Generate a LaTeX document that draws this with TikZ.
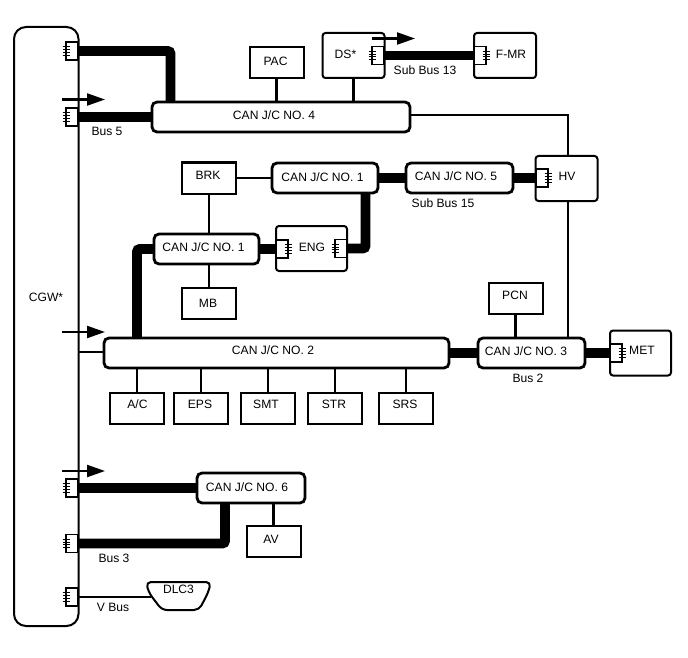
\documentclass[tikz,border=0pt]{standalone}
\usepackage{fontspec}
\setmainfont{Liberation Sans}
\usetikzlibrary{arrows.meta,calc}
\tikzset{
  x=1pt,y=-1pt,
  every node/.style={font=\fontsize{12.1}{13}\selectfont,inner sep=0pt,outer sep=0pt},
  caption/.style={text height=8.7pt,text depth=0pt},
  junction/.style={draw,line width=2.8pt,rounded corners=5pt,fill=white,minimum width=#1,minimum height=30pt},
  junction/.default=107pt,
  ecu/.style={draw,line width=2pt,fill=white,minimum width=54pt,minimum height=31pt},
  unit/.style={draw,line width=2pt,rounded corners=3pt,fill=white,minimum width=62pt,minimum height=45pt},
  termbox/.style={draw,line width=1.4pt,fill=white,minimum width=12pt,minimum height=18pt},
  thin bus/.style={line width=2.4pt},
  thick bus/.style={line width=9.6pt,rounded corners=2.5pt},
  coil/.style={line width=1pt},
  feed/.style={line width=2.2pt,-{Triangle[length=18pt,width=12pt]}},
}
% Terminating resistor: box name, centre x, centre y, coil side (west or east)
\newcommand{\termres}[4]{%
  \node[termbox] (#1) at (#2,#3) {};
  \foreach \dy in {-4.2,-1.4,1.4,4.2}
    \draw[coil] ($(#1.#4)+(-3.5,\dy)$) -- ++(7,0);
}
\newcommand{\feedarrow}[3]{%
  \coordinate (#1a) at (#2,#3);
  \coordinate (#1b) at ($(#1a)+(43,0)$);
  \draw[feed] (#1a) -- (#1b);
}
\begin{document}
\begin{tikzpicture}
\useasboundingbox[fill=white] (0,0) rectangle (688,658);

% Gateway body
\draw[line width=2pt,rounded corners=12pt,fill=white] (14,27) rectangle (78.5,626);
\node[caption] (cgwlabel) at (46,297) {CGW*};
\coordinate (cgwA) at (78.5,352);

% Coordinates for the bends in the bus lines
\coordinate (bendA) at (170.5,51);
\coordinate (bendB) at (365.5,248.5);
\coordinate (bendC) at (137,249);
\coordinate (bendD) at (225,543.5);
\coordinate (bendE) at (568,115);

% Terminating resistors on the gateway
\termres{tA}{72}{51}{west}
\termres{tB}{72}{117}{west}
\termres{tC}{72}{488}{west}
\termres{tD}{72}{543.5}{west}
\termres{tE}{72}{597}{west}

% Junction connectors and control units
\node[junction=258pt] (jc4) at (281,117) {};
\node[junction=105pt] (jc1a) at (206.5,249) {};
\node[junction=345pt] (jc2) at (276.5,353) {};
\node[junction=107pt] (jc3) at (531.5,353) {};
\node[junction=106pt] (jc1b) at (325,178) {};
\node[junction=107pt] (jc5) at (459.5,178) {};
\node[junction=108pt] (jc6) at (251,488) {};

\node[ecu] (pac) at (276.5,63) {};
\node[unit] (ds) at (353.5,55.5) {};
\node[unit] (fmr) at (505,55.5) {};
\node[unit] (hv) at (566.5,178.5) {};
\node[unit,minimum width=71pt] (eng) at (311.5,248.5) {};
\node[unit,minimum width=61pt] (met) at (640.5,353) {};
\node[ecu] (brk) at (209,178) {};
\node[ecu] (mb) at (209,303.5) {};
\node[ecu] (pcn) at (515.5,298) {};
\node[ecu] (ac) at (137,408) {};
\node[ecu] (eps) at (201,408) {};
\node[ecu] (smt) at (268,408) {};
\node[ecu] (str) at (335,408) {};
\node[ecu] (srs) at (406,408) {};
\node[ecu] (av) at (273.5,541.5) {};

\termres{tF}{378}{55.5}{west}
\termres{tG}{480}{55.5}{east}
\termres{tH}{542}{178}{east}
\termres{tI}{282}{249}{east}
\termres{tJ}{341}{248.5}{west}
\termres{tK}{616}{353}{east}

% Thick bus sections
\draw[thick bus] (tA.east) -- (bendA) -- (bendA |- jc4.north);
\draw[thick bus] (tB.east) -- (jc4.west);
\draw[thick bus] (tF.east) -- (tG.west);
\draw[thick bus] (jc1b.east) -- (jc5.west);
\draw[thick bus] (jc5.east) -- (tH.west);
\draw[thick bus] (tJ.east) -- (bendB) -- (bendB |- jc1b.south);
\draw[thick bus] (jc1a.east) -- (tI.west);
\draw[thick bus] (jc1a.west) -- (bendC) -- (bendC |- jc2.north);
\draw[thick bus] (jc2.east) -- (jc3.west);
\draw[thick bus] (jc3.east) -- (tK.west);
\draw[thick bus] (tC.east) -- (jc6.west);
\draw[thick bus] (tD.east) -- (bendD) -- (bendD |- jc6.south);

% Thin bus sections
\draw[thin bus] (pac.south) -- (pac.south |- jc4.north);
\draw[thin bus] (ds.south) -- (ds.south |- jc4.north);
\draw[thin bus] (jc4.east |- bendE) -- (bendE) -- (bendE |- hv.north);
\draw[thin bus] (bendE |- hv.south) -- (bendE |- jc3.north);
\draw[thin bus] (brk.east) -- (jc1b.west);
\draw[thin bus] (brk.south) -- (brk.south |- jc1a.north);
\draw[thin bus] (mb.north) -- (mb.north |- jc1a.south);
\draw[thin bus] (pcn.south) -- (pcn.south |- jc3.north);
\draw[thin bus] (cgwA) -- (cgwA -| jc2.west);
\foreach \e in {ac,eps,smt,str,srs}
  \draw[thin bus] (\e.north) -- (\e.north |- jc2.south);
\draw[thin bus] (jc6.south -| av.north) -- (av.north);

% Diagnostic connector
\coordinate (dlcw) at (151,597);
\draw[line width=2pt,rounded corners=5pt] (146,582) -- (211,582) -- (208,593) -- (199,610) -- (162,610) -- (149,593) -- cycle;
\draw[thin bus] (tE.east) -- (dlcw);
\node[caption] (dlc) at (178.5,589.5) {DLC3};

% Communication direction arrows
\feedarrow{fa}{62}{99.5}
\feedarrow{fb}{372}{38.5}
\feedarrow{fc}{62}{332}
\feedarrow{fd}{62}{471}

% Labels
\begin{scope}[every node/.append style={caption}]
\node (lpac) at (275.5,61) {PAC};
\node (lds) at (345.5,54.5) {DS*};
\node (lfmr) at (511,54.5) {F-MR};
\node (ljc4) at (274,115) {CAN J/C NO. 4};
\node (lbrk) at (208,175) {BRK};
\node (ljc1b) at (322.5,177) {CAN J/C NO. 1};
\node (ljc5) at (456,176) {CAN J/C NO. 5};
\node (lhv) at (567,176) {HV};
\node (ljc1a) at (203.5,247) {CAN J/C NO. 1};
\node (leng) at (312,247) {ENG};
\node (lmb) at (208,303) {MB};
\node (lpcn) at (515,295.5) {PCN};
\node (ljc2) at (273,350) {CAN J/C NO. 2};
\node (ljc3) at (526,351) {CAN J/C NO. 3};
\node (lmet) at (642,350) {MET};
\node (lac) at (137.5,404.5) {A/C};
\node (leps) at (200,404.5) {EPS};
\node (lsmt) at (266,404.5) {SMT};
\node (lstr) at (334,404.5) {STR};
\node (lsrs) at (405,404.5) {SRS};
\node (ljc6) at (247,487) {CAN J/C NO. 6};
\node (lav) at (271,539.5) {AV};
\node (lb5) at (107,131) {Bus 5};
\node (lsb13) at (425,70) {Sub Bus 13};
\node (lsb15) at (443,203) {Sub Bus 15};
\node (lb2) at (528,378) {Bus 2};
\node (lb3) at (114,558) {Bus 3};
\node (lvb) at (113,607) {V Bus};
\end{scope}
\end{tikzpicture}
\end{document}
